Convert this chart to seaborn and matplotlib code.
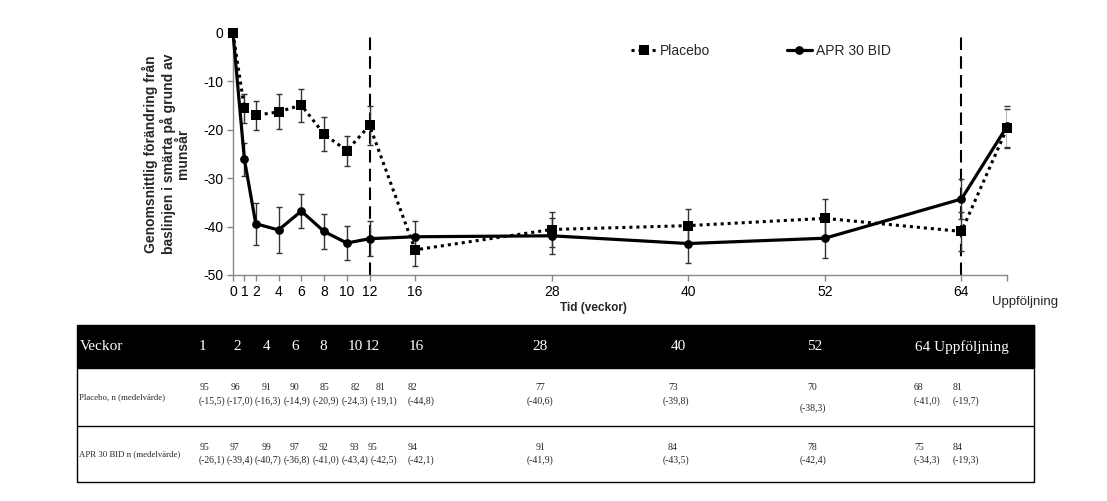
import matplotlib
matplotlib.use("Agg")
import matplotlib.pyplot as plt
from matplotlib.patches import Rectangle
import seaborn as sns
import numpy as np
import pandas as pd

# ---------------- data ----------------
weeks = [0, 1, 2, 4, 6, 8, 10, 12, 16, 28, 40, 52, 64, 68]   # 68 = Uppföljning
week_ticklabels = ["0", "1", "2", "4", "6", "8", "10", "12", "16", "28", "40", "52", "64", ""]
placebo_mean = [0, -15.5, -17.0, -16.3, -14.9, -20.9, -24.3, -19.1, -44.8, -40.6, -39.8, -38.3, -41.0, -19.7]
placebo_err = [0, 3.0, 3.0, 3.6, 3.4, 3.5, 3.1, 4.0, 3.3, 3.7, 3.4, 4.1, 4.0, 4.1]
apr_mean = [0, -26.1, -39.4, -40.7, -36.8, -41.0, -43.4, -42.5, -42.1, -41.9, -43.5, -42.4, -34.3, -19.3]
apr_err = [0, 3.4, 4.3, 4.7, 3.5, 3.6, 3.6, 3.6, 3.2, 3.7, 4.1, 4.0, 4.1, 4.2]
yticks = [0, -10, -20, -30, -40, -50]
phase_lines = [12, 64]

# table data
table_header = ["Veckor", "1", "2", "4", "6", "8", "10", "12", "16", "28", "40", "52", "64 Uppföljning"]
row_labels = ["Placebo, n (medelvärde)", "APR 30 BID n (medelvärde)"]
placebo_n = [95, 96, 91, 90, 85, 82, 81, 82, 77, 73, 70, 68, 81]
placebo_tab_mean = ["(-15,5)", "(-17,0)", "(-16,3)", "(-14,9)", "(-20,9)", "(-24,3)", "(-19,1)",
                    "(-44,8)", "(-40,6)", "(-39,8)", "(-38,3)", "(-41,0)", "(-19,7)"]
apr_n = [95, 97, 99, 97, 92, 93, 95, 94, 91, 84, 78, 75, 84]
apr_tab_mean = ["(-26,1)", "(-39,4)", "(-40,7)", "(-36,8)", "(-41,0)", "(-43,4)", "(-42,5)",
                "(-42,1)", "(-41,9)", "(-43,5)", "(-42,4)", "(-34,3)", "(-19,3)"]

# ---------------- style ----------------
sns.set_theme(style="ticks")
plt.rcParams["font.family"] = ["Liberation Sans", "DejaVu Sans"]
plt.rcParams["axes.unicode_minus"] = False

W, H = 1107, 501
fig = plt.figure(figsize=(W / 100, H / 100), dpi=100)

def fx(px):
    return px / W

def fy(py):
    return 1 - py / H

ax = fig.add_axes([fx(233), fy(275), fx(1007) - fx(233), fy(33) - fy(275)])

sns.lineplot(x=weeks, y=apr_mean, color="black", lw=2.3, marker="o", ms=6.3,
             mec="black", mew=0, ax=ax, label="APR 30 BID", zorder=3)
sns.lineplot(x=weeks, y=placebo_mean, color="black", lw=2.2, ls=(0, (1, 1.3)),
             marker="s", ms=6.8, mec="black", mew=0, ax=ax, label="Placebo", zorder=4)
ax.errorbar(weeks, apr_mean, yerr=apr_err, fmt="none", ecolor="#333333",
            elinewidth=1.0, capsize=2.5, capthick=1.0, zorder=2)
ax.errorbar(weeks, placebo_mean, yerr=placebo_err, fmt="none", ecolor="#333333",
            elinewidth=1.0, capsize=2.5, capthick=1.0, zorder=2)
for ln in ax.lines:
    ln.set_clip_on(False)

for xv in phase_lines:
    ax.axvline(xv, color="black", lw=1.5, ls=(0, (6, 3)), zorder=1, clip_on=False)

ax.set_xlim(0, 68)
ax.set_ylim(-50, 0)
ax.set_xticks(weeks)
ax.set_xticklabels(week_ticklabels)
ax.set_yticks(yticks)
ax.set_yticklabels([str(v) for v in yticks])
ax.tick_params(direction="out", length=4, width=1, color="#888888",
               labelsize=10, labelcolor="black", pad=3)
for s in ["top", "right"]:
    ax.spines[s].set_visible(False)
for s in ["left", "bottom"]:
    ax.spines[s].set_color("#888888")
    ax.spines[s].set_linewidth(1.0)

ax.set_ylabel("Genomsnittlig förändring från\nbaslinjen i smärta på grund av\nmunsår",
              fontsize=10, fontweight="bold", linespacing=1.08)
ax.yaxis.set_label_coords(-0.055, 0.5)
ax.set_xlabel("Tid (veckor)", fontsize=8.5, fontweight="bold")
ax.xaxis.set_label_coords(0.466, -0.11)
ax.annotate("Uppföljning", xy=(68, 0), xycoords=("data", "axes fraction"),
            xytext=(13, -19.5), textcoords="offset points", ha="center", va="center",
            fontsize=9.5)

handles, labels = ax.get_legend_handles_labels()
ax.get_legend().remove()
order = [labels.index("Placebo"), labels.index("APR 30 BID")]
fig.legend([handles[i] for i in order], [labels[i] for i in order],
           loc="center left", bbox_to_anchor=(fx(631), fy(51)), ncol=2, frameon=False,
           fontsize=10, handlelength=1.8, handletextpad=0.3, columnspacing=5.5,
           borderpad=0, borderaxespad=0)

# ---------------- table ----------------
tx0, tx1, ty0, ty1 = 77, 1034, 325, 482
tax = fig.add_axes([fx(tx0), fy(ty1), fx(tx1) - fx(tx0), fy(ty0) - fy(ty1)])
tax.set_xlim(tx0, tx1)
tax.set_ylim(ty1, ty0)
tax.axis("off")
serif = ["Liberation Serif", "DejaVu Serif"]

tax.add_patch(Rectangle((tx0, ty0), tx1 - tx0, 368 - ty0, color="black", clip_on=False))
lw_t = 1.0
tax.plot([tx0, tx1], [425.5, 425.5], color="black", lw=lw_t, clip_on=False)
tax.plot([tx0, tx1], [481.5, 481.5], color="black", lw=lw_t, clip_on=False)
tax.plot([tx0 + 0.5, tx0 + 0.5], [368, 482], color="black", lw=lw_t, clip_on=False)
tax.plot([tx1 - 0.5, tx1 - 0.5], [ty0, 482], color="black", lw=lw_t, clip_on=False)

header_x = [80, 202, 237, 267, 295, 323, 355, 372, 416, 540, 678, 815, 915]
header_ha = ["left"] + ["center"] * 11 + ["left"]
for lab, xx, ha in zip(table_header, header_x, header_ha):
    tax.text(xx, 347, lab, color="white", fontsize=11, family=serif, ha=ha, va="center")

tax.text(79, 397, row_labels[0], fontsize=6.3, family=serif, ha="left", va="center")
tax.text(79, 454, row_labels[1], fontsize=6.3, family=serif, ha="left", va="center")

mean_x = [212, 240, 268, 297, 326, 355, 384, 408, 540, 676, 813, 914, 953]
mean_ha = ["center"] * 7 + ["left", "center", "center", "center", "left", "left"]
pl_n_x = [205, 235, 266, 295, 325, 355, 380, 408, 540, 673, 812, 914, 953]
apr_n_x = [205, 235, 266, 295, 323, 354, 372, 408, 540, 673, 812, 914, 953]
pl_mean_y = [401] * 10 + [408, 401, 401]

for i in range(len(placebo_n)):
    tax.text(pl_n_x[i], 388, str(placebo_n[i]), fontsize=7, family=serif, ha=mean_ha[i], va="center")
    tax.text(mean_x[i], pl_mean_y[i], placebo_tab_mean[i], fontsize=7, family=serif, ha=mean_ha[i], va="center")
    tax.text(apr_n_x[i], 448, str(apr_n[i]), fontsize=7, family=serif, ha=mean_ha[i], va="center")
    tax.text(mean_x[i], 460, apr_tab_mean[i], fontsize=7, family=serif, ha=mean_ha[i], va="center")

fig.savefig("out.png", dpi=100)
